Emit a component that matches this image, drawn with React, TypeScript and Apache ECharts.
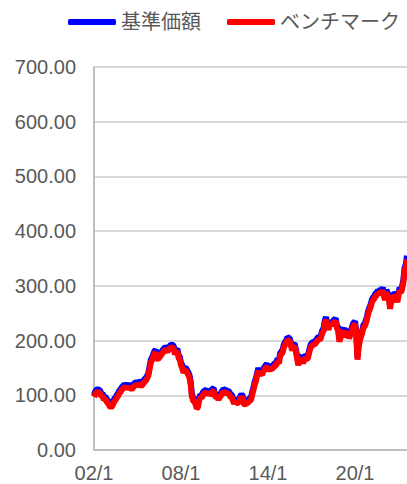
import React, { useEffect, useRef } from "react";
import * as echarts from "echarts";

const startYear = 2002;
const monthCount = 260; // 2002/1 .. 2023/8

const benchmark2002 = [97, 102, 105, 106, 105, 104, 98, 99, 92, 93, 90, 87];
const benchmark2003 = [84, 80, 78, 80, 85, 89, 92, 96, 99, 104, 106, 110];
const benchmark2004 = [112, 115, 113, 116, 112, 114, 113, 111, 113, 116, 118, 119];
const benchmark2005 = [118, 120, 119, 117, 119, 122, 125, 127, 131, 136, 148, 160];
const benchmark2006 = [164, 170, 176, 178, 167, 166, 169, 172, 175, 178, 181, 183];
const benchmark2007 = [182, 181, 183, 186, 188, 187, 185, 175, 178, 180, 168, 165];
const benchmark2008 = [155, 150, 141, 145, 146, 141, 137, 132, 120, 98, 90, 88];
const benchmark2009 = [84, 76, 78, 90, 96, 95, 100, 103, 104, 106, 100, 104];
const benchmark2010 = [101, 103, 107, 108, 99, 96, 97, 92, 96, 99, 103, 106];
const benchmark2011 = [105, 106, 102, 104, 101, 97, 96, 90, 85, 89, 86, 86];
const benchmark2012 = [88, 93, 97, 94, 84, 83, 85, 86, 88, 90, 92, 102];
const benchmark2013 = [110, 120, 126, 136, 145, 136, 140, 137, 143, 146, 150, 152];
const benchmark2014 = [148, 146, 148, 147, 150, 152, 154, 156, 162, 158, 172, 175];
const benchmark2015 = [178, 187, 192, 195, 201, 200, 199, 190, 182, 188, 190, 180];
const benchmark2016 = [168, 155, 162, 165, 167, 158, 166, 167, 166, 168, 177, 186];
const benchmark2017 = [190, 192, 193, 194, 197, 200, 202, 201, 207, 214, 218, 232];
const benchmark2018 = [238, 226, 220, 227, 230, 228, 232, 233, 236, 222, 220, 198];
const benchmark2019 = [205, 212, 214, 218, 206, 212, 215, 204, 210, 216, 224, 228];
const benchmark2020 = [230, 212, 165, 188, 200, 208, 214, 224, 226, 232, 240, 250];
const benchmark2021 = [256, 262, 270, 274, 277, 281, 283, 287, 284, 290, 287, 292];
const benchmark2022 = [280, 274, 288, 282, 276, 258, 275, 282, 270, 284, 280, 270];
const benchmark2023 = [283, 292, 287, 295, 306, 328, 334, 348];

const nav2002 = [100, 107, 110, 111, 110, 109, 103, 104, 97, 98, 95, 92];
const nav2003 = [89, 85, 83, 85, 90, 94, 97, 101, 104, 109, 111, 115];
const nav2004 = [117, 120, 118, 121, 117, 119, 118, 116, 118, 121, 123, 124];
const nav2005 = [123, 125, 124, 122, 124, 127, 130, 132, 136, 141, 153, 165];
const nav2006 = [169, 175, 181, 183, 172, 171, 174, 177, 180, 183, 186, 188];
const nav2007 = [187, 186, 188, 191, 193, 192, 190, 180, 183, 185, 173, 170];
const nav2008 = [160, 155, 146, 150, 151, 146, 142, 137, 125, 103, 95, 93];
const nav2009 = [89, 81, 83, 95, 101, 100, 105, 108, 109, 111, 105, 109];
const nav2010 = [106, 108, 112, 113, 104, 101, 102, 97, 101, 104, 108, 111];
const nav2011 = [110, 111, 107, 109, 106, 102, 101, 95, 90, 94, 91, 91];
const nav2012 = [93, 98, 102, 99, 89, 88, 90, 91, 93, 95, 97, 107];
const nav2013 = [115, 125, 131, 141, 150, 141, 145, 142, 148, 151, 155, 157];
const nav2014 = [153, 151, 153, 152, 155, 157, 159, 161, 167, 163, 177, 180];
const nav2015 = [183, 192, 197, 200, 206, 205, 204, 195, 187, 193, 195, 185];
const nav2016 = [173, 160, 167, 170, 172, 163, 171, 172, 171, 173, 182, 191];
const nav2017 = [195, 197, 198, 199, 202, 205, 207, 206, 212, 219, 223, 237];
const nav2018 = [243, 231, 225, 232, 235, 233, 237, 238, 241, 227, 225, 203];
const nav2019 = [210, 217, 219, 223, 211, 217, 220, 209, 215, 221, 229, 233];
const nav2020 = [235, 217, 170, 193, 205, 213, 219, 229, 231, 237, 245, 255];
const nav2021 = [261, 267, 275, 279, 282, 286, 288, 292, 289, 295, 292, 297];
const nav2022 = [285, 279, 293, 287, 281, 263, 280, 287, 275, 289, 285, 275];
const nav2023 = [288, 297, 292, 300, 311, 333, 339, 355];

const yTicks = [0, 100, 200, 300, 400, 500, 600, 700];
const seriesNames = ["基準価額", "ベンチマーク"];

const benchmark = [
  ...benchmark2002, ...benchmark2003, ...benchmark2004, ...benchmark2005,
  ...benchmark2006, ...benchmark2007, ...benchmark2008, ...benchmark2009,
  ...benchmark2010, ...benchmark2011, ...benchmark2012, ...benchmark2013,
  ...benchmark2014, ...benchmark2015, ...benchmark2016, ...benchmark2017,
  ...benchmark2018, ...benchmark2019, ...benchmark2020, ...benchmark2021,
  ...benchmark2022, ...benchmark2023,
];
const nav = [
  ...nav2002, ...nav2003, ...nav2004, ...nav2005, ...nav2006, ...nav2007,
  ...nav2008, ...nav2009, ...nav2010, ...nav2011, ...nav2012, ...nav2013,
  ...nav2014, ...nav2015, ...nav2016, ...nav2017, ...nav2018, ...nav2019,
  ...nav2020, ...nav2021, ...nav2022, ...nav2023,
];

const categories: string[] = [];
for (let i = 0; i < monthCount; i++) {
  const y = startYear + Math.floor(i / 12);
  const m = (i % 12) + 1;
  categories.push(String(y % 100).padStart(2, "0") + "/" + m);
}

const FONT = "'Liberation Sans', Arial, 'Noto Sans CJK JP', sans-serif";

export default function App() {
  const ref = useRef<HTMLDivElement>(null);
  useEffect(() => {
    if (!ref.current) return;
    const chart = echarts.init(ref.current, undefined, { renderer: "svg" });
    chart.setOption({
      animation: false,
      backgroundColor: "#ffffff",
      textStyle: { fontFamily: FONT },
      legend: {
        data: seriesNames,
        orient: "horizontal",
        left: 68,
        right: 0,
        top: 12,
        padding: 0,
        itemWidth: 48,
        itemHeight: 6,
        itemGap: 26,
        icon: "roundRect",
        textStyle: { fontSize: 20, color: "#595959", fontFamily: FONT },
      },
      grid: {
        left: 94,
        right: 0,
        top: 67,
        bottom: 34,
        containLabel: false,
        outerBoundsMode: "none",
      },
      xAxis: {
        type: "category",
        data: categories,
        boundaryGap: false,
        axisLine: { show: true, lineStyle: { color: "#bfbfbf", width: 2 } },
        axisTick: { show: false },
        splitLine: { show: false },
        axisLabel: {
          interval: (index: number) => index % 72 === 0,
          color: "#595959",
          fontSize: 20,
          lineHeight: 20,
          margin: 13,
          fontFamily: FONT,
        },
      },
      yAxis: {
        type: "value",
        min: yTicks[0],
        max: yTicks[yTicks.length - 1],
        interval: 100,
        axisLine: { show: true, lineStyle: { color: "#bfbfbf", width: 2 } },
        axisTick: { show: false },
        splitLine: { show: true, lineStyle: { color: "#d9d9d9", width: 2 } },
        axisLabel: {
          formatter: (v: number) => v.toFixed(2),
          color: "#595959",
          fontSize: 20,
          margin: 18,
          fontFamily: FONT,
        },
      },
      series: [
        {
          name: seriesNames[0],
          type: "line",
          data: nav,
          showSymbol: false,
          symbol: "none",
          color: "#0000ff",
          lineStyle: { color: "#0000ff", width: 6 },
          z: 2,
        },
        {
          name: seriesNames[1],
          type: "line",
          data: benchmark,
          showSymbol: false,
          symbol: "none",
          color: "#ff0000",
          lineStyle: { color: "#ff0000", width: 6 },
          z: 3,
        },
      ],
    });
    return () => chart.dispose();
  }, []);
  return (
    <div
      ref={ref}
      style={{ position: "fixed", left: 0, top: 0, width: 407, height: 484 }}
    />
  );
}
